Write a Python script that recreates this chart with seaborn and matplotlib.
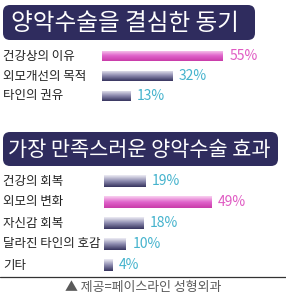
import numpy as np
import matplotlib
matplotlib.use('Agg')
import matplotlib.pyplot as plt
import matplotlib.transforms as mtransforms
from matplotlib.patches import FancyBboxPatch
from matplotlib.colors import LinearSegmentedColormap
import seaborn as sns

# Data
title_motive = '양악수술을 결심한 동기'
motive_labels = ['건강상의 이유', '외모개선의 목적', '타인의 권유']
motive_values = [55, 32, 13]

title_effect = '가장 만족스러운 양악수술 효과'
effect_labels = ['건강의 회복', '외모의 변화', '자신감 회복', '달라진 타인의 호감', '기타']
effect_values = [19, 49, 18, 10, 4]

source_text = '▲ 제공=페이스라인 성형외과'

sns.set_style('white')
plt.rcParams['font.family'] = ['Noto Sans CJK KR', 'DejaVu Sans']

W, H = 286, 298
fig = plt.figure(figsize=(W / 100, H / 100), dpi=100)
fig.patch.set_facecolor('white')

# background axes in pixel coordinates
bg = fig.add_axes([0, 0, 1, 1], zorder=0)
bg.set_xlim(0, W)
bg.set_ylim(H, 0)
bg.axis('off')

navy = '#2f2c5e'
navy_cmap = LinearSegmentedColormap.from_list('navy', ['#eeedf5', '#8c8aae', '#37345f'])
pink_cmap = LinearSegmentedColormap.from_list('pink', ['#f9d2f0', '#e064cb', '#c93ba9'])
cyan_txt = '#45b3cd'
pink_txt = '#e05ac3'

# title boxes
for (x, y, w, h), txt, fs, tx in [((3, 5, 252, 35), title_motive, 17, 11),
                                   ((3, 132, 275, 34), title_effect, 15, 8)]:
    bg.add_patch(FancyBboxPatch((x, y), w, h, boxstyle='round,pad=0,rounding_size=7',
                                facecolor=navy, edgecolor='none'))
    bg.text(tx, y + h / 2 + 0.5, txt, color='white', fontsize=fs, ha='left', va='center')

# footer
bg.plot([0, W], [277, 277], color='#333333', lw=0.9)
bg.text(W / 2, 288, source_text, color='#5a5a5a', fontsize=9.3, ha='center', va='center')

px_per_pct = 2.2


def bar_section(left, top, row_h, labels, values, bar_w):
    n = len(values)
    xmax = 80
    ax = fig.add_axes([left / W, 1 - (top + row_h * n) / H,
                       px_per_pct * xmax / W, row_h * n / H], zorder=1)
    ax.patch.set_alpha(0)
    top_val = max(values)
    sns.barplot(x=values, y=labels, hue=labels, orient='h', ax=ax, width=bar_w,
                palette=['#c93ba9' if v == top_val else '#37345f' for v in values],
                legend=False)
    ax.set_xlim(0, xmax)
    ax.set_ylim(n - 0.5, -0.5)
    grad = np.linspace(0, 1, 64).reshape(-1, 1)
    for p, v in zip(ax.patches, values):
        cmap = pink_cmap if v == top_val else navy_cmap
        x0, y0, w, h = p.get_x(), p.get_y(), p.get_width(), p.get_height()
        im = ax.imshow(grad, cmap=cmap, aspect='auto', origin='upper', zorder=3,
                       extent=(x0, x0 + w, y0 + h, y0), interpolation='bilinear')
        im.set_clip_path(p)
    ax.set_xlim(0, xmax)
    ax.set_ylim(n - 0.5, -0.5)
    for i, v in enumerate(values):
        ax.annotate(f'{v}%', (v, i), xytext=(4.5, 0), textcoords='offset points',
                    ha='left', va='center', fontsize=10, fontweight='light',
                    color=pink_txt if v == top_val else cyan_txt)
    # category labels at the left edge of the figure
    trans = mtransforms.blended_transform_factory(bg.transData, ax.transData)
    for i, lab in enumerate(labels):
        ax.text(3, i, lab, transform=trans, ha='left', va='center',
                fontsize=9, color='#222222', clip_on=False)
    ax.set_xlabel('')
    ax.set_ylabel('')
    ax.set_xticks([])
    ax.set_yticks([])
    sns.despine(ax=ax, left=True, bottom=True)
    return ax


bar_section(102, 46, 20, motive_labels, motive_values, 0.52)
bar_section(104, 170.5, 21, effect_labels, effect_values, 0.54)

fig.savefig('out.png', dpi=100, facecolor='white')
